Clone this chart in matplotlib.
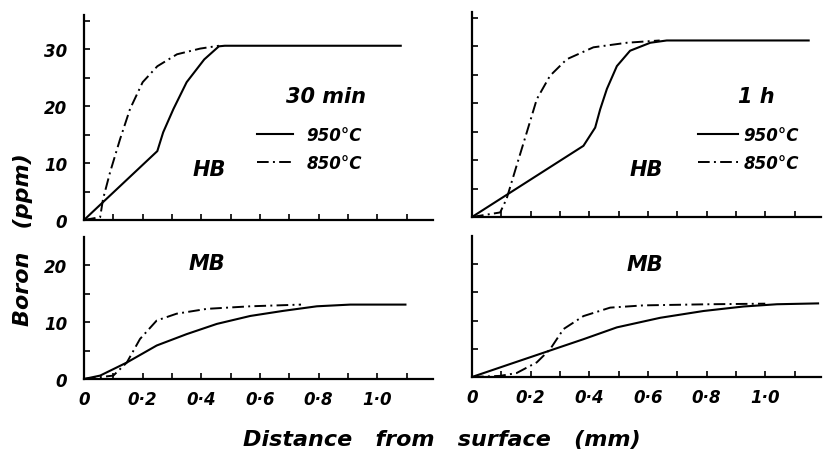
import numpy as np
import matplotlib
matplotlib.use('Agg')
import matplotlib.pyplot as plt
from matplotlib.ticker import FixedLocator

plt.rcParams['font.family'] = ['DejaVu Sans']
plt.rcParams['font.style'] = 'italic'
plt.rcParams['font.weight'] = 'bold'

### values (x in mm, boron in ppm) ###
# 30 min, HB
hb30_950_x = [0, 0.25, 0.27, 0.305, 0.35, 0.41, 0.46, 0.48, 1.08]
hb30_950_y = [0, 12.1, 15.4, 19.5, 24.2, 28.2, 30.5, 30.6, 30.6]
hb30_850_x = [0, 0.055, 0.065, 0.089, 0.123, 0.157, 0.2, 0.25, 0.317, 0.396, 0.46]
hb30_850_y = [0, 0.5, 3.7, 8.4, 14.2, 19.5, 24.2, 27.0, 29.1, 30.1, 30.6]
# 1 h, HB
hb1h_950_x = [0, 0.38, 0.42, 0.437, 0.46, 0.494, 0.539, 0.608, 0.664, 1.148]
hb1h_950_y = [0, 12.5, 15.7, 18.9, 22.5, 26.5, 29.2, 30.6, 31.0, 31.0]
hb1h_850_x = [0, 0.096, 0.118, 0.152, 0.187, 0.221, 0.266, 0.323, 0.414, 0.528, 0.64]
hb1h_850_y = [0, 0.8, 3.2, 9.0, 14.9, 20.7, 24.8, 27.7, 29.8, 30.6, 31.0]
# 30 min, MB
mb30_950_x = [0, 0.055, 0.146, 0.248, 0.35, 0.453, 0.567, 0.68, 0.794, 0.908, 1.096]
mb30_950_y = [0, 0.6, 2.9, 5.9, 7.9, 9.7, 11.1, 12.0, 12.8, 13.1, 13.1]
mb30_850_x = [0, 0.1, 0.146, 0.191, 0.248, 0.316, 0.419, 0.567, 0.74]
mb30_850_y = [0, 0.6, 2.9, 7.05, 10.3, 11.5, 12.35, 12.8, 13.1]
# 1 h, MB
mb1h_950_x = [0, 0.13, 0.255, 0.38, 0.494, 0.642, 0.789, 0.926, 1.04, 1.18]
mb1h_950_y = [0, 2.3, 4.5, 6.7, 8.8, 10.5, 11.7, 12.5, 12.9, 13.05]
mb1h_850_x = [0, 0.096, 0.152, 0.221, 0.266, 0.312, 0.38, 0.471, 0.585, 0.81, 1.0]
mb1h_850_y = [0, 0.2, 0.7, 2.6, 4.9, 8.5, 10.8, 12.3, 12.7, 12.9, 13.0]

x_labels = ['0', '0·2', '0·4', '0·6', '0·8', '1·0']
dashdot = (0, (6, 2.2, 1, 2.2))
W, H = 823.0, 452.0

fig = plt.figure(figsize=(8.23, 4.52), dpi=100)

def make_axes(left, top, bottom, ymax, ymajor, yminor, xlab, ylab):
	ax = fig.add_axes([left/W, 1-bottom/H, 349/W, (bottom-top)/H])
	ax.set_xlim(0, 1.19)
	ax.set_ylim(0, ymax)
	for s in ['top', 'right']:
		ax.spines[s].set_visible(False)
	for s in ['left', 'bottom']:
		ax.spines[s].set_linewidth(1.6)
	ax.xaxis.set_major_locator(FixedLocator([0, 0.2, 0.4, 0.6, 0.8, 1.0]))
	ax.xaxis.set_minor_locator(FixedLocator([0.1, 0.3, 0.5, 0.7, 0.9, 1.1]))
	ax.yaxis.set_major_locator(FixedLocator(ymajor))
	ax.yaxis.set_minor_locator(FixedLocator(yminor))
	ax.tick_params(which='both', direction='in', length=4, width=1.2, labelsize=12)
	ax.tick_params(axis='x', pad=8)
	ax.tick_params(axis='y', pad=12)
	if xlab:
		ax.set_xticklabels(x_labels)
	else:
		ax.set_xticklabels([])
	if ylab:
		ax.set_yticklabels([str(v) for v in ymajor])
	else:
		ax.set_yticklabels([])
	return ax

ax1 = make_axes(84, 16, 221, 36, [0, 10, 20, 30], [5, 15, 25, 35], False, True)
ax2 = make_axes(472, 13, 218, 36, [0, 10, 20, 30], [5, 15, 25, 35], False, False)
ax3 = make_axes(84, 238, 380, 25, [0, 10, 20], [5, 15], True, True)
ax4 = make_axes(472, 237, 378, 25, [0, 10, 20], [5, 15], True, False)

# top left: 30 min
l1, = ax1.plot(hb30_950_x, hb30_950_y, 'k-', lw=1.5, label='950°C')
l2, = ax1.plot(hb30_850_x, hb30_850_y, color='k', ls=dashdot, lw=1.4, label='850°C')
ax1.legend(handles=[l1, l2], loc='center left', bbox_to_anchor=(0.496, 0.346),
           frameon=False, fontsize=12, handlelength=2.15, borderpad=0, borderaxespad=0,
           handletextpad=0.8, labelspacing=0.6)
ax1.text(0.693, 0.605, '30 min', transform=ax1.transAxes, ha='center', va='center', fontsize=15)
ax1.text(0.36, 0.25, 'HB', transform=ax1.transAxes, ha='center', va='center', fontsize=15)

# top right: 1 h
l3, = ax2.plot(hb1h_950_x, hb1h_950_y, 'k-', lw=1.5, label='950°C')
l4, = ax2.plot(hb1h_850_x, hb1h_850_y, color='k', ls=dashdot, lw=1.4, label='850°C')
ax2.legend(handles=[l3, l4], loc='center left', bbox_to_anchor=(0.648, 0.332),
           frameon=False, fontsize=12, handlelength=2.4, borderpad=0, borderaxespad=0,
           handletextpad=0.3, labelspacing=0.6)
ax2.text(0.814, 0.59, '1 h', transform=ax2.transAxes, ha='center', va='center', fontsize=15)
ax2.text(0.5, 0.235, 'HB', transform=ax2.transAxes, ha='center', va='center', fontsize=15)

# bottom left
ax3.plot(mb30_950_x, mb30_950_y, 'k-', lw=1.5)
ax3.plot(mb30_850_x, mb30_850_y, color='k', ls=dashdot, lw=1.4)
ax3.text(0.352, 0.815, 'MB', transform=ax3.transAxes, ha='center', va='center', fontsize=15)

# bottom right
ax4.plot(mb1h_950_x, mb1h_950_y, 'k-', lw=1.5)
ax4.plot(mb1h_850_x, mb1h_850_y, color='k', ls=dashdot, lw=1.4)
ax4.text(0.496, 0.80, 'MB', transform=ax4.transAxes, ha='center', va='center', fontsize=15)

fig.text(23/W, 1-240/H, 'Boron   (ppm)', rotation=90, ha='center', va='center', fontsize=16)
fig.text(442/W, 1-440/H, 'Distance   from   surface   (mm)', ha='center', va='center', fontsize=16)

plt.savefig('out.png', dpi=100)
